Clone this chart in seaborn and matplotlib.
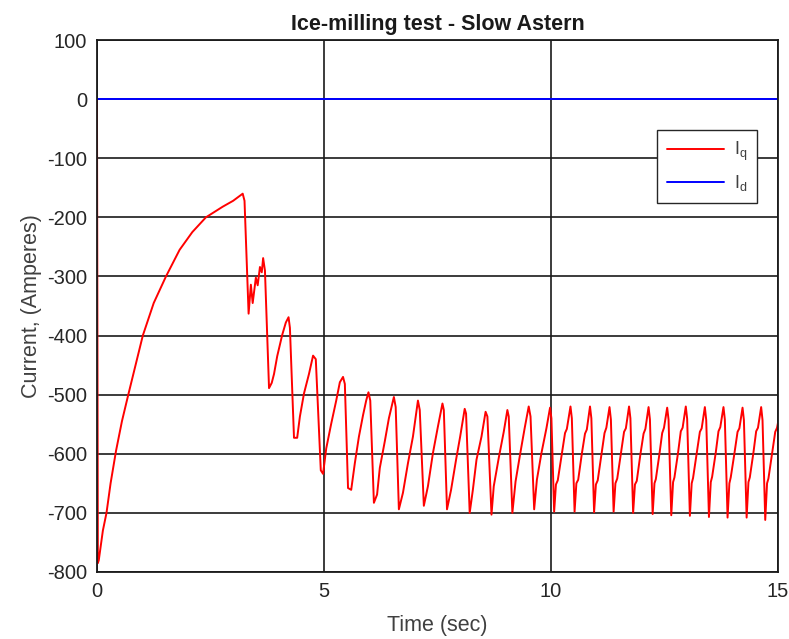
import matplotlib
matplotlib.use("Agg")
import matplotlib.pyplot as plt
import seaborn as sns
import pandas as pd

# Iq (red)
iq_t = [0.00, 0.02, 0.04, 0.13, 0.21, 0.30, 0.42, 0.55, 0.69, 0.85, 1.01, 1.25, 1.52, 1.82, 2.10, 2.40, 2.77, 3.00, 3.21,
        3.25, 3.34, 3.39, 3.43, 3.50, 3.54, 3.59, 3.63, 3.66, 3.70, 3.79, 3.85, 3.90, 3.97, 4.08, 4.16, 4.22, 4.25,
        4.34, 4.41, 4.47, 4.56, 4.67, 4.76, 4.82, 4.93, 4.98,
        5.05, 5.16, 5.27, 5.35, 5.42, 5.46, 5.53, 5.60, 5.68, 5.77, 5.86, 5.93, 5.98, 6.02,
        6.10, 6.17, 6.23, 6.34, 6.43, 6.54, 6.58, 6.65, 6.74, 6.85, 6.96, 7.07, 7.11,
        7.20, 7.29, 7.40, 7.51, 7.61, 7.64, 7.71, 7.80, 7.91, 8.00, 8.10, 8.13,
        8.21, 8.28, 8.36, 8.47, 8.56, 8.60, 8.69, 8.74, 8.85, 8.96, 9.04, 9.07,
        9.15, 9.22, 9.32, 9.42, 9.51, 9.55, 9.63, 9.69, 9.79, 9.90, 9.98, 10.01,
        10.07, 10.11, 10.15, 10.24, 10.31, 10.35, 10.43, 10.46,
        10.52, 10.56, 10.60, 10.68, 10.75, 10.79, 10.86, 10.89,
        10.95, 10.99, 11.03, 11.11, 11.18, 11.22, 11.29, 11.32,
        11.38, 11.42, 11.46, 11.54, 11.61, 11.65, 11.72, 11.75,
        11.81, 11.85, 11.89, 11.97, 12.04, 12.08, 12.15, 12.18,
        12.24, 12.28, 12.31, 12.39, 12.45, 12.49, 12.56, 12.59,
        12.65, 12.69, 12.72, 12.80, 12.86, 12.90, 12.97, 13.00,
        13.06, 13.10, 13.13, 13.21, 13.28, 13.32, 13.39, 13.42,
        13.48, 13.52, 13.55, 13.63, 13.69, 13.73, 13.80, 13.83,
        13.89, 13.93, 13.96, 14.04, 14.11, 14.15, 14.22, 14.25,
        14.31, 14.35, 14.38, 14.46, 14.52, 14.56, 14.63, 14.66,
        14.72, 14.76, 14.79, 14.87, 14.94, 14.98, 15.00]
iq_v = [0, -785, -780, -730, -700, -650, -595, -545, -500, -450, -400, -345, -300, -255, -225, -200, -182, -172, -160,
        -172, -363, -314, -345, -302, -315, -284, -293, -269, -290, -489, -480, -465, -435, -399, -378, -369, -387,
        -573, -573, -537, -498, -465, -434, -440, -628, -634,
        -591, -549, -510, -479, -470, -482, -658, -661, -616, -571, -535, -510, -496, -510,
        -683, -669, -624, -579, -540, -504, -521, -694, -666, -616, -571, -510, -526,
        -688, -655, -599, -554, -515, -526, -694, -661, -610, -571, -524, -532,
        -700, -661, -610, -571, -529, -537, -703, -655, -607, -563, -526, -537,
        -700, -647, -601, -557, -520, -537, -694, -644, -599, -557, -522, -540,
        -698, -652, -645, -600, -565, -558, -520, -540,
        -698, -650, -644, -600, -566, -559, -520, -540,
        -699, -652, -645, -602, -565, -556, -521, -542,
        -698, -650, -642, -600, -563, -557, -520, -540,
        -700, -652, -646, -601, -566, -558, -521, -542,
        -702, -650, -643, -600, -565, -556, -522, -542,
        -704, -648, -640, -598, -562, -556, -520, -541,
        -705, -650, -641, -600, -563, -557, -521, -543,
        -707, -648, -639, -598, -562, -555, -521, -542,
        -708, -650, -640, -600, -563, -557, -522, -543,
        -708, -648, -640, -598, -562, -556, -521, -543,
        -712, -650, -642, -600, -563, -556, -548]

# Id (blue)
id_t = [0.0, 15.0]
id_v = [0, 0]

xticks = [0, 5, 10, 15]
yticks = list(range(-800, 101, 100))

sns.set_style("white")
plt.rcParams['font.family'] = ['Liberation Sans', 'DejaVu Sans']
plt.rcParams['mathtext.fontset'] = 'custom'
plt.rcParams['mathtext.rm'] = 'Liberation Sans'
plt.rcParams['mathtext.it'] = 'Liberation Sans'
plt.rcParams['axes.unicode_minus'] = False

df_q = pd.DataFrame({'t': iq_t, 'v': iq_v})
df_d = pd.DataFrame({'t': id_t, 'v': id_v})

fig = plt.figure(figsize=(7.89, 6.39), dpi=100)
ax = fig.add_axes([0.1229, 0.1049, 0.8631, 0.8325])

sns.lineplot(data=df_q, x='t', y='v', color='red', lw=1.4, estimator=None, ax=ax, label=r'I$_{\rm q}$')
sns.lineplot(data=df_d, x='t', y='v', color='blue', lw=1.4, estimator=None, ax=ax, label=r'I$_{\rm d}$')

ax.set_xlim(0, 15)
ax.set_ylim(-800, 100)
ax.set_xticks(xticks)
ax.set_yticks(yticks)
ax.grid(True, color='#1a1a1a', lw=1.2)
ax.set_axisbelow(True)
ax.tick_params(direction='in', length=4, width=1, colors='#262626', labelsize=14.5, pad=7)
for s in ax.spines.values():
    s.set_color('#1a1a1a')
    s.set_linewidth(1.3)

ax.set_title('Ice-milling test - Slow Astern', fontsize=15.5, fontweight='bold', color='#1a1a1a', pad=7)
ax.set_xlabel('Time (sec)', fontsize=15.5, color='#404040', labelpad=10)
ax.set_ylabel('Current, (Amperes)', fontsize=15.5, color='#404040', labelpad=4)

ax.legend(loc='upper right', bbox_to_anchor=(0.969, 0.831), borderaxespad=0, frameon=True, fancybox=False,
          edgecolor='#262626', framealpha=1, fontsize=13, labelcolor='#404040',
          handlelength=3.2, borderpad=0.55, labelspacing=0.55, handletextpad=0.5)

fig.savefig('out.png', dpi=100)
